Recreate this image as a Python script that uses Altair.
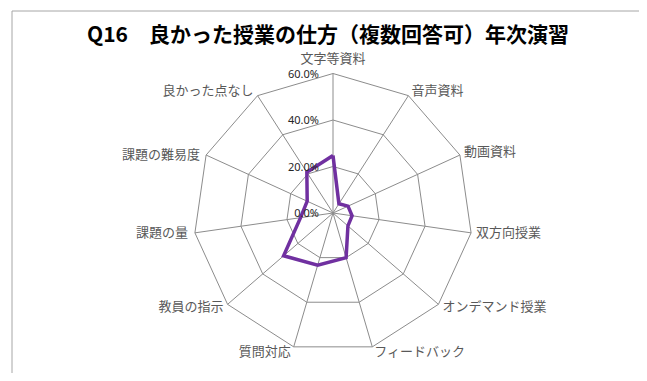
import math
import altair as alt
import pandas as pd

# ---------------- data ----------------
categories = ["文字等資料", "音声資料", "動画資料", "双方向授業", "オンデマンド授業",
              "フィードバック", "質問対応", "教員の指示", "課題の量", "課題の難易度", "良かった点なし"]
values = [24.7, 4.7, 7.1, 8.3, 8.5, 20.0, 23.4, 28.1, 14.1, 12.2, 20.8]
tick_values = [0, 20, 40, 60]
tick_labels = ["0.0%", "20.0%", "40.0%", "60.0%"]
title_text = "Q16　良かった授業の仕方（複数回答可）年次演習"

N = len(categories)
rmax = tick_values[-1]

series_df = pd.DataFrame({
    "cat": categories + [categories[0]],
    "idx": list(range(N)) + [N],
    "value": values + [values[0]],
})
ring_df = pd.DataFrame([{"level": lv, "idx": i, "value": lv}
                        for lv in tick_values[1:] for i in range(N + 1)])
spoke_df = pd.DataFrame([{"idx": i, "step": s, "value": v}
                         for i in range(N) for s, v in enumerate([0, rmax])])
label_df = pd.DataFrame({"cat": categories, "idx": list(range(N)), "value": [rmax] * N})
tick_df = pd.DataFrame({"value": tick_values, "label": tick_labels, "idx": [0] * len(tick_values)})

# ---------------- layout ----------------
W, H = 631, 365
CX, CY = 325, 205          # centre in plot coords
PX_PER = 139.5 / rmax       # pixels per percent
xs = alt.Scale(domain=[-CX / PX_PER, (W - CX) / PX_PER], nice=False, zero=False)
ys = alt.Scale(domain=[-(H - CY) / PX_PER, CY / PX_PER], nice=False, zero=False)

GRID = "#8c8c8c"
FONT = "Noto Sans CJK JP"


def polar(ch):
    return ch.transform_calculate(
        theta=f"datum.idx * 2 * PI / {N}"
    ).transform_calculate(
        px="datum.value * sin(datum.theta)",
        py="datum.value * cos(datum.theta)",
    )


X = alt.X("px:Q", scale=xs, axis=None)
Y = alt.Y("py:Q", scale=ys, axis=None)

border = alt.Chart(pd.DataFrame({"a": [0]})).mark_rect(
    fill="white", stroke="#a6a6a6", strokeWidth=1
).encode(x=alt.value(4), x2=alt.value(635), y=alt.value(3), y2=alt.value(400))

spokes = polar(alt.Chart(spoke_df)).mark_line(color=GRID, strokeWidth=1).encode(
    x=X, y=Y, detail="idx:N", order="step:Q")

rings = polar(alt.Chart(ring_df)).mark_line(color=GRID, strokeWidth=1).encode(
    x=X, y=Y, detail="level:N", order="idx:Q")

series = polar(alt.Chart(series_df)).mark_line(
    color="#7030A0", strokeWidth=3.5, strokeJoin="miter"
).encode(x=X, y=Y, order="idx:Q")

ticks = polar(alt.Chart(tick_df)).mark_text(
    align="right", baseline="middle", dx=-14, dy=1, font="Noto Sans", fontSize=11, color="#262626"
).encode(x=X, y=Y, text="label:N")

# label offsets per category index: (align, dx, dy)
offsets = {
    0: ("center", 0, -15),
    1: ("left", 3, -5),
    2: ("left", 4, -3),
    3: ("left", 5, 0),
    4: ("left", 4, 3),
    5: ("left", 2, 5),
    6: ("right", -3, 5),
    7: ("right", -4, 3),
    8: ("right", -7, 0),
    9: ("right", -6, 0),
    10: ("right", -4, -5),
}
label_layers = []
for i, (al, dx, dy) in offsets.items():
    label_layers.append(
        polar(alt.Chart(label_df)).transform_filter(f"datum.idx == {i}").mark_text(
            align=al, baseline="middle", dx=dx, dy=dy, font=FONT, fontSize=13, color="#595959"
        ).encode(x=X, y=Y, text="cat:N")
    )

title = alt.Chart(pd.DataFrame({"t": [title_text]})).mark_text(
    align="center", baseline="middle", font=FONT, fontSize=21, fontWeight="bold", color="#000000"
).encode(x=alt.value(320), y=alt.value(28), text="t:N")

chart = alt.layer(border, spokes, rings, series, ticks, *label_layers, title).properties(
    width=W, height=H, autosize=alt.AutoSizeParams(type="none"), padding=0
).configure_view(stroke=None)

chart.save("out.html", embed_options={"renderer": "svg", "actions": False})
